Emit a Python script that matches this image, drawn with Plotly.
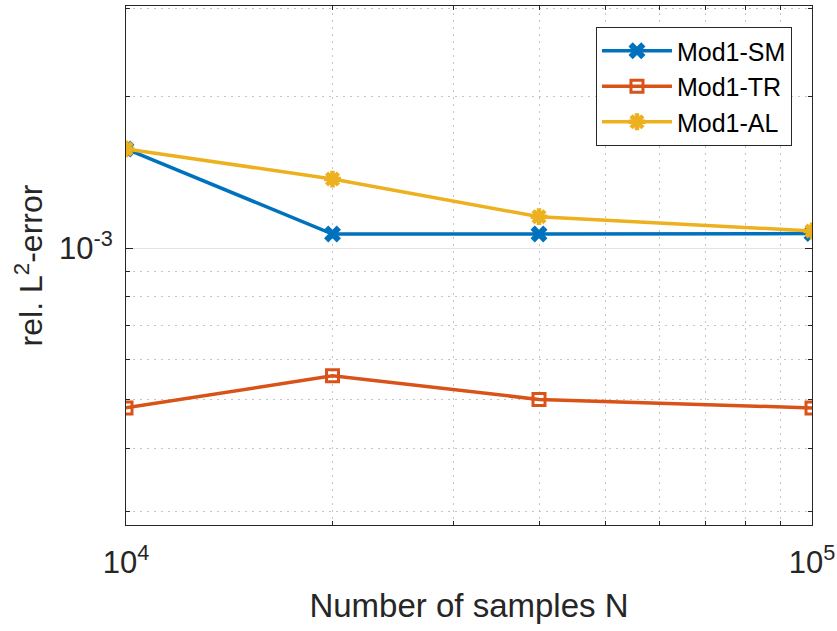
import plotly.graph_objects as go

samples = [1e4, 2e4, 4e4, 1e5]
err_sm = [1.574e-3, 1.066e-3, 1.066e-3, 1.068e-3]
err_tr = [4.81e-4, 5.57e-4, 5.00e-4, 4.81e-4]
err_al = [1.574e-3, 1.371e-3, 1.154e-3, 1.081e-3]

names = ["Mod1-SM", "Mod1-TR", "Mod1-AL"]
colors = ["#0072BD", "#D95319", "#EDB120"]

x_major = [1e4, 1e5]
x_major_text = ["10<sup>4</sup>", "10<sup>5</sup>"]
x_minor = [2e4, 3e4, 4e4, 5e4, 6e4, 7e4, 8e4, 9e4]
y_major = [1e-3]
y_major_text = ["10<sup>-3</sup>"]
y_minor = [3e-4, 4e-4, 5e-4, 6e-4, 7e-4, 8e-4, 9e-4, 2e-3, 3e-3]

FONT = "Liberation Sans, Arial, Helvetica, sans-serif"
AX = "#262626"

fig = go.Figure()
series = [err_sm, err_tr, err_al]
markers = [
    dict(symbol="x", size=15, color=colors[0], line=dict(width=0)),
    dict(symbol="square-open", size=12, color=colors[1], line=dict(width=3, color=colors[1])),
    dict(symbol="asterisk-open", size=14, color=colors[2], line=dict(width=4.5, color=colors[2])),
]
for ys, nm, c, mk in zip(series, names, colors, markers):
    fig.add_trace(go.Scatter(x=samples, y=ys, name=nm, mode="lines+markers",
                             line=dict(color=c, width=3.5), marker=mk))

common = dict(showline=True, linecolor=AX, linewidth=1, mirror="ticks",
              ticks="inside", ticklen=7, tickcolor=AX, tickwidth=1,
              showgrid=True, gridcolor="#e3e3e3", gridwidth=1, zeroline=False,
              tickfont=dict(family=FONT, size=31, color=AX))

fig.update_xaxes(type="log", range=[4, 5], tickmode="array", tickvals=x_major,
                 ticktext=x_major_text, ticklabelstandoff=10,
                 minor=dict(tickmode="array", tickvals=x_minor, ticks="inside", ticklen=4,
                            tickcolor=AX, showgrid=True, gridcolor="#c4c4c4",
                            griddash="2px,5px", gridwidth=1),
                 title=dict(text="Number of samples N", font=dict(family=FONT, size=33, color=AX),
                            standoff=14),
                 **common)
fig.update_yaxes(type="log", range=[-3.5507, -2.5189], tickmode="array", tickvals=y_major,
                 ticktext=y_major_text, ticklabelstandoff=6,
                 minor=dict(tickmode="array", tickvals=y_minor, ticks="inside", ticklen=4,
                            tickcolor=AX, showgrid=True, gridcolor="#c4c4c4",
                            griddash="2px,5px", gridwidth=1),
                 title=dict(text="rel. L<sup>2</sup>-error", font=dict(family=FONT, size=32, color=AX),
                            standoff=6),
                 **common)

fig.update_layout(
    width=837, height=631,
    margin=dict(l=126, r=25, t=6, b=106, autoexpand=False),
    paper_bgcolor="white", plot_bgcolor="white",
    font=dict(family=FONT, color=AX),
    showlegend=True,
    legend=dict(x=0.9708, y=0.9595, xanchor="right", yanchor="top",
                bgcolor="white", bordercolor=AX, borderwidth=1,
                font=dict(family=FONT, size=25, color="black"),
                itemwidth=70, tracegroupgap=0),
)

fig.write_html("out.html")
